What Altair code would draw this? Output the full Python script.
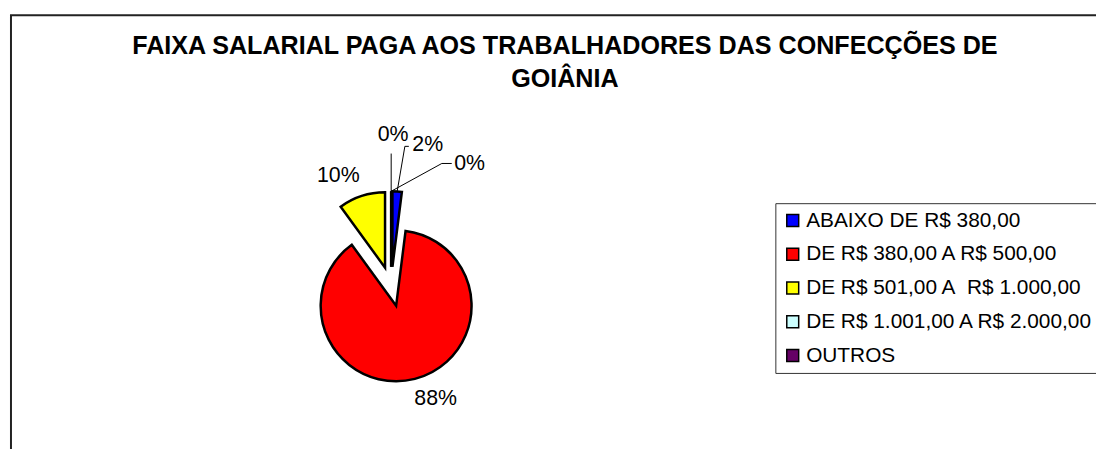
import altair as alt
import pandas as pd

# ---- data ----
categories = [
    "ABAIXO DE R$ 380,00",
    "DE R$ 380,00 A R$ 500,00",
    "DE R$ 501,00 A\u00a0 R$ 1.000,00",
    "DE R$ 1.001,00 A R$ 2.000,00",
    "OUTROS",
]
values = [2, 88, 10, 0, 0]
colors = ["#0000FF", "#FF0000", "#FFFF00", "#CCFFFF", "#660066"]
title_lines = ["FAIXA SALARIAL PAGA AOS TRABALHADORES DAS CONFECÇÕES DE", "GOIÂNIA"]

df = pd.DataFrame({"cat": categories, "value": values, "order": list(range(len(categories)))})

# ---- layout (pixels in the view) ----
W, H = 1096, 441
CX, CY, R, D, LR = 386, 279, 76, 20, 104
FONT = "Liberation Sans"

# label nudges relative to the slice's radial label anchor (Excel-like placement)
label_nudge = [(29, -19), (14, -7), (-15, 7), (2, -28.5), (79, 1)]
# leader lines relative to label centre: (elbow dx, elbow dy, tick dx, tick dy)
leaders = [(-23, 1.5, -19, 1.5), None, None, (-2, 18.5, -2, 18.5), (-28, -1, -18, -1)]


def pick(vals):
    expr = "0"
    for i in reversed(range(len(vals))):
        expr = f"(datum.order === {i} ? {vals[i]} : {expr})"
    return expr


has_leader = " || ".join(f"datum.order === {i}" for i, l in enumerate(leaders) if l)
lead = [l if l else (0, 0, 0, 0) for l in leaders]

base = (
    alt.Chart(df)
    .transform_joinaggregate(total="sum(value)")
    .transform_window(cum="sum(value)", sort=[alt.SortField("order")], frame=[None, 0])
    .transform_calculate(
        a0="2*PI*(datum.cum - datum.value)/datum.total",
        a1="2*PI*datum.cum/datum.total",
    )
    .transform_calculate(mid="(datum.a0 + datum.a1)/2")
    .transform_calculate(
        cx=f"{CX} + {D}*sin(datum.mid)",
        cy=f"{CY} - {D}*cos(datum.mid)",
    )
    .transform_calculate(
        ox=f"datum.cx + {R}*sin(datum.mid)",
        oy=f"datum.cy - {R}*cos(datum.mid)",
        lx=f"datum.cx + {LR}*sin(datum.mid) + {pick([n[0] for n in label_nudge])}",
        ly=f"datum.cy - {LR}*cos(datum.mid) + {pick([n[1] for n in label_nudge])}",
        pct="format(datum.value/datum.total, '.0%')",
    )
    .transform_calculate(
        ex=f"datum.lx + {pick([l[0] for l in lead])}",
        ey=f"datum.ly + {pick([l[1] for l in lead])}",
        tx=f"datum.lx + {pick([l[2] for l in lead])}",
        ty=f"datum.ly + {pick([l[3] for l in lead])}",
    )
)

arcs = base.mark_arc(stroke="black", strokeWidth=2.5, radius=R, strokeJoin="miter").encode(
    x=alt.X("cx:Q", scale=None, axis=None),
    y=alt.Y("cy:Q", scale=None, axis=None),
    theta=alt.Theta("a0:Q", scale=None),
    theta2="a1:Q",
    color=alt.Color(
        "cat:N",
        scale=alt.Scale(domain=categories, range=colors),
        legend=alt.Legend(
            title=None,
            orient="none",
            legendX=773,
            legendY=195,
            symbolType="square",
            symbolSize=144,
            symbolStrokeColor="black",
            symbolStrokeWidth=1.5,
            symbolOpacity=1,
            labelFont=FONT,
            labelFontSize=21,
            labelColor="black",
            labelLimit=500,
            labelOffset=3,
            rowPadding=12,
            padding=7,
            strokeColor="#333333",
        ),
    ),
    order=alt.Order("order:Q"),
)

labels = base.mark_text(font=FONT, fontSize=21.5, color="black", align="center", baseline="middle").encode(
    x=alt.X("lx:Q", scale=None, axis=None),
    y=alt.Y("ly:Q", scale=None, axis=None),
    text="pct:N",
)

diag = base.transform_filter(has_leader).mark_rule(color="black", strokeWidth=1).encode(
    x=alt.X("ox:Q", scale=None, axis=None),
    y=alt.Y("oy:Q", scale=None, axis=None),
    x2="ex:Q",
    y2="ey:Q",
)
tick = base.transform_filter(has_leader).mark_rule(color="black", strokeWidth=1).encode(
    x=alt.X("ex:Q", scale=None, axis=None),
    y=alt.Y("ey:Q", scale=None, axis=None),
    x2="tx:Q",
    y2="ty:Q",
)

one = alt.Data(values=[{}])
frame = alt.Chart(one).mark_rect(fill="white", stroke="#222222", strokeWidth=2).encode(
    x=alt.value(3), x2=alt.value(W + 40), y=alt.value(5.7), y2=alt.value(H + 40)
)
title = alt.Chart(one).mark_text(
    text=title_lines,
    font=FONT,
    fontSize=25.3,
    fontWeight="bold",
    color="black",
    align="center",
    baseline="alphabetic",
    lineHeight=33,
).encode(x=alt.value(561), y=alt.value(44.5))

chart = (
    alt.layer(frame, title, arcs, diag, tick, labels)
    .properties(width=W, height=H, autosize=alt.AutoSizeParams(type="none"), padding=0, background="white")
    .configure_view(stroke=None)
)

chart.save("out.html", embed_options={"renderer": "svg", "actions": False})
